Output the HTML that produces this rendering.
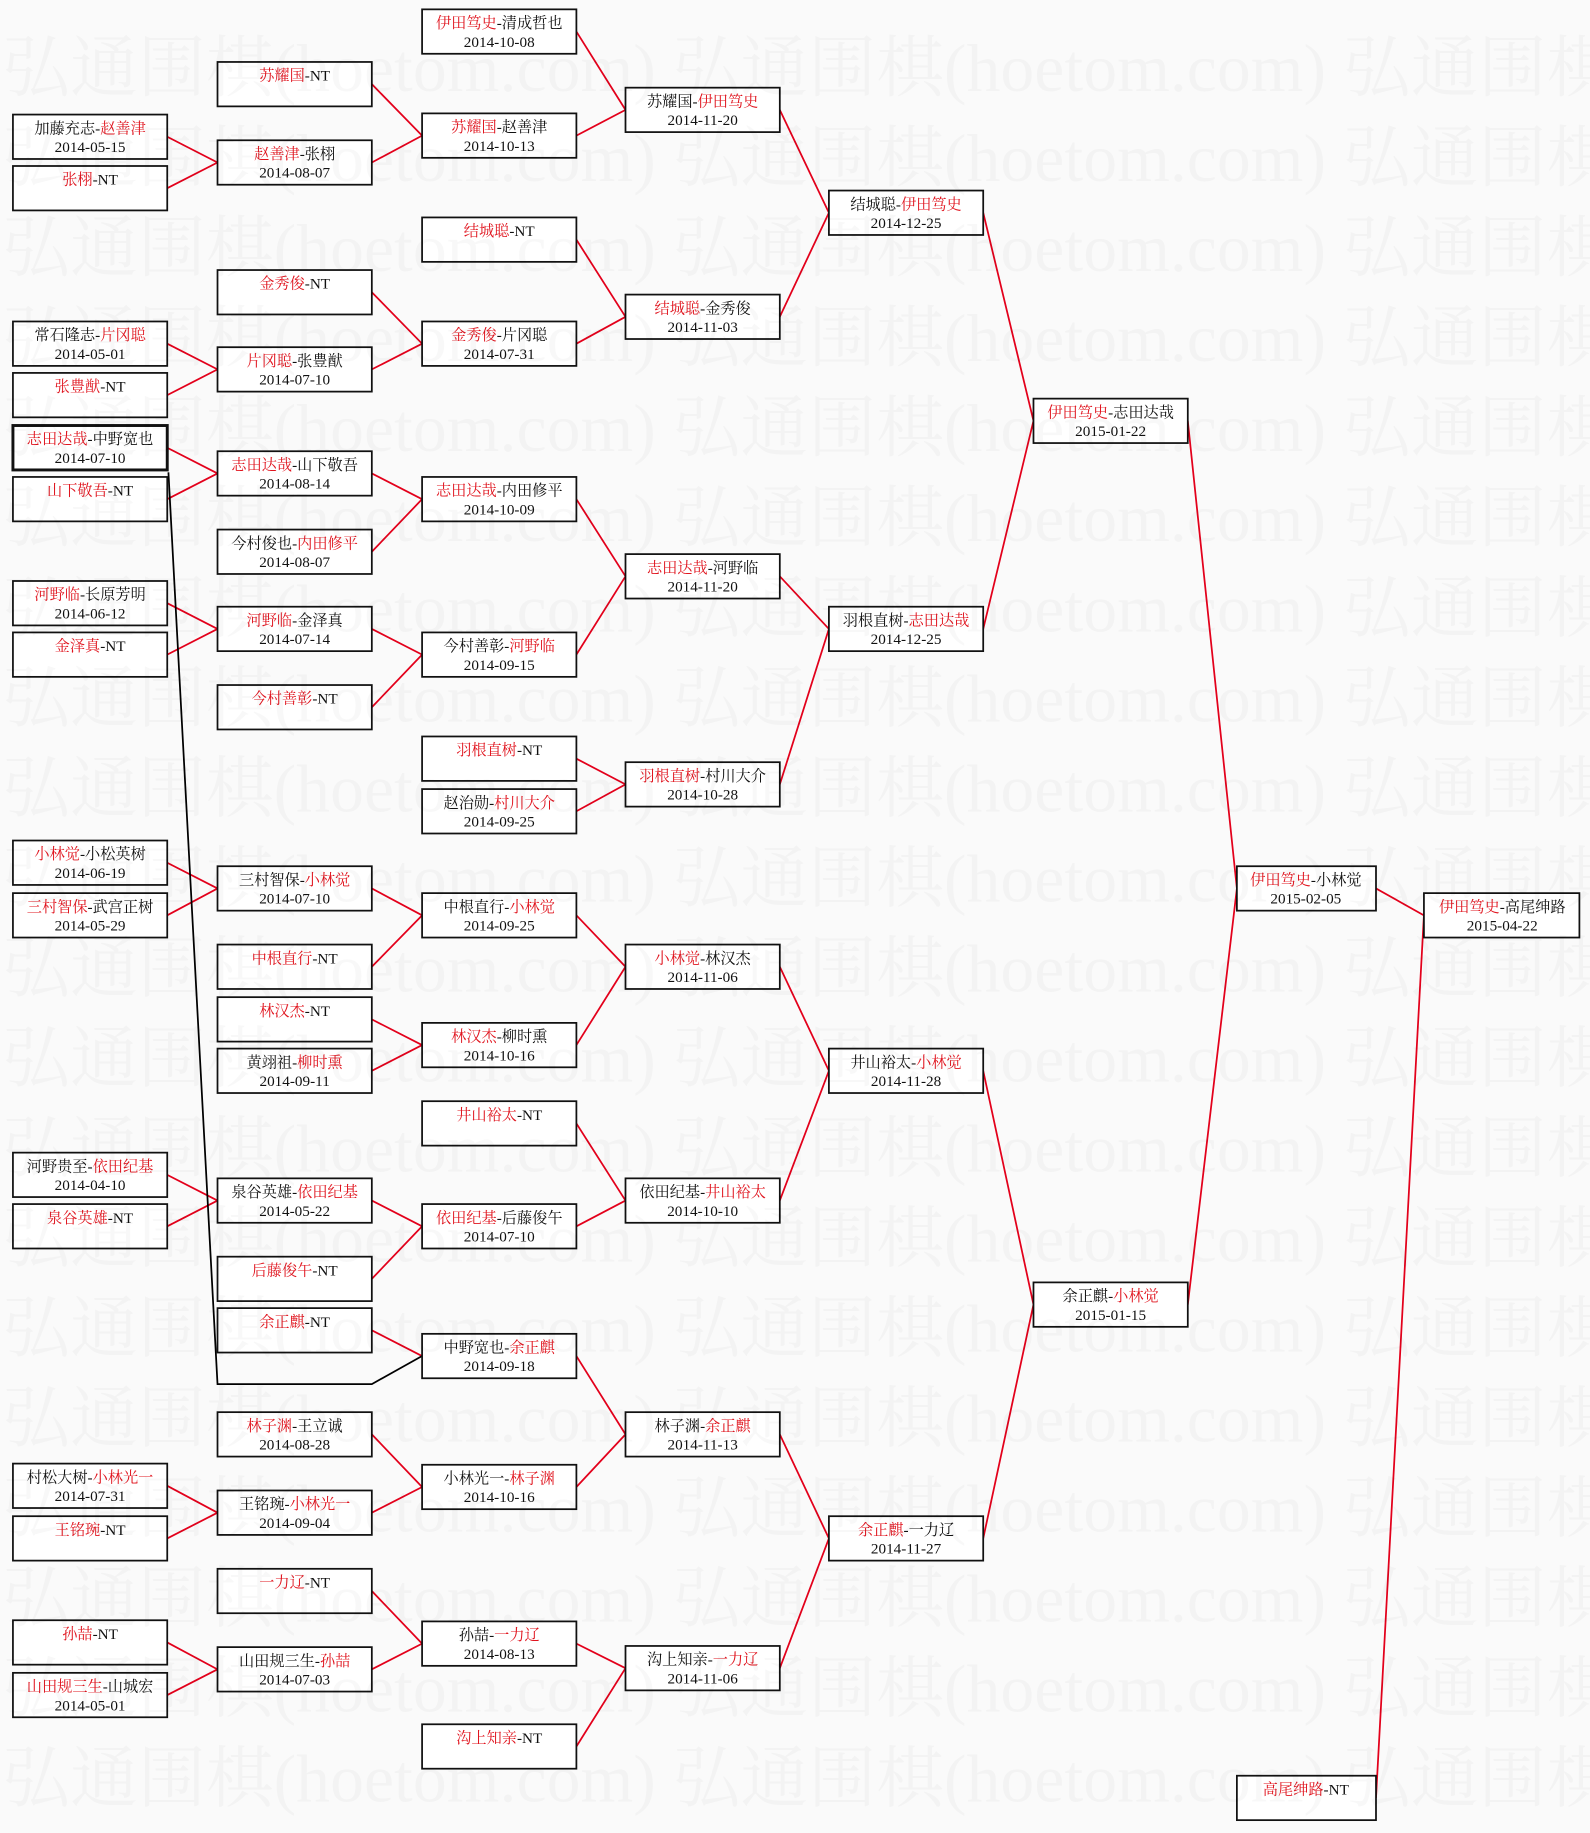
<!DOCTYPE html>
<html><head><meta charset="utf-8">
<style>
html,body{margin:0;padding:0;background:#fafafa;}
svg{display:block;}
text{font-family:"Liberation Serif","Noto Serif CJK SC","Noto Sans CJK SC",serif;font-size:13px;fill:#111;}
.r{fill:#e0141e;}
.wm{font-size:58px;fill:#000;fill-opacity:0.028;}
</style></head><body>
<svg width="1590" height="1833" viewBox="0 0 1360 1568" xmlns="http://www.w3.org/2000/svg">
<rect width="1360" height="1568" fill="#fafafa"/>
<g stroke="#e3001b" stroke-width="1.5" fill="none">
<path d="M143 117L186 139M143 161L186 139"/>
<path d="M143 294L186 316M143 338L186 316"/>
<path d="M143 383L186 405M143 427L186 405"/>
<path d="M143 516L186 538M143 560L186 538"/>
<path d="M143 738L186 760M143 783L186 760"/>
<path d="M143 1005L186 1027M143 1049L186 1027"/>
<path d="M143 1271L186 1294M143 1316L186 1294"/>
<path d="M143 1405L186 1428M143 1450L186 1428"/>
<path d="M318 72L361 116M318 139L361 116"/>
<path d="M318 250L361 294M318 316L361 294"/>
<path d="M318 405L361 427M318 472L361 427"/>
<path d="M318 538L361 560M318 605L361 560"/>
<path d="M318 760L361 783M318 827L361 783"/>
<path d="M318 872L361 894M318 916L361 894"/>
<path d="M318 1027L361 1049M318 1094L361 1049"/>
<path d="M318 1138L361 1160"/>
<path d="M318 1227L361 1272M318 1294L361 1272"/>
<path d="M318 1361L361 1406M318 1428L361 1406"/>
<path d="M493 27L535 94M493 116L535 94"/>
<path d="M493 205L535 271M493 294L535 271"/>
<path d="M493 427L535 493M493 560L535 493"/>
<path d="M493 649L535 671M493 694L535 671"/>
<path d="M493 783L535 827M493 894L535 827"/>
<path d="M493 961L535 1027M493 1049L535 1027"/>
<path d="M493 1160L535 1227M493 1272L535 1227"/>
<path d="M493 1406L535 1427M493 1494L535 1427"/>
<path d="M667 94L709 182M667 271L709 182"/>
<path d="M667 493L709 538M667 671L709 538"/>
<path d="M667 827L709 916M667 1027L709 916"/>
<path d="M667 1227L709 1316M667 1427L709 1316"/>
<path d="M841 182L884 360M841 538L884 360"/>
<path d="M841 916L884 1116M841 1316L884 1116"/>
<path d="M1016 360L1058 760M1016 1116L1058 760"/>
<path d="M1177 760L1218 783M1177 1538L1218 783"/>
</g>
<path d="M144 404L186 1184L318 1184L361 1160" stroke="#000" stroke-width="1.5" fill="none"/>

<g fill="#fff" stroke="#111" stroke-width="1.5">
<rect x="11" y="98" width="132" height="38"/><rect x="11" y="142" width="132" height="38"/>
<rect x="11" y="275" width="132" height="38"/><rect x="11" y="319" width="132" height="38"/>
<rect x="11" y="364" width="132" height="38" stroke-width="2.5"/><rect x="11" y="408" width="132" height="38"/>
<rect x="11" y="497" width="132" height="38"/><rect x="11" y="541" width="132" height="38"/>
<rect x="11" y="719" width="132" height="38"/><rect x="11" y="764" width="132" height="38"/>
<rect x="11" y="986" width="132" height="38"/><rect x="11" y="1030" width="132" height="38"/>
<rect x="11" y="1252" width="132" height="38"/><rect x="11" y="1297" width="132" height="38"/>
<rect x="11" y="1386" width="132" height="38"/><rect x="11" y="1431" width="132" height="38"/>
<rect x="186" y="53" width="132" height="38"/><rect x="186" y="120" width="132" height="38"/>
<rect x="186" y="231" width="132" height="38"/><rect x="186" y="297" width="132" height="38"/>
<rect x="186" y="386" width="132" height="38"/><rect x="186" y="453" width="132" height="38"/>
<rect x="186" y="519" width="132" height="38"/><rect x="186" y="586" width="132" height="38"/>
<rect x="186" y="741" width="132" height="38"/><rect x="186" y="808" width="132" height="38"/>
<rect x="186" y="853" width="132" height="38"/><rect x="186" y="897" width="132" height="38"/>
<rect x="186" y="1008" width="132" height="38"/><rect x="186" y="1075" width="132" height="38"/>
<rect x="186" y="1119" width="132" height="38"/>
<rect x="186" y="1208" width="132" height="38"/><rect x="186" y="1275" width="132" height="38"/>
<rect x="186" y="1342" width="132" height="38"/><rect x="186" y="1409" width="132" height="38"/>
<rect x="361" y="8" width="132" height="38"/><rect x="361" y="97" width="132" height="38"/>
<rect x="361" y="186" width="132" height="38"/><rect x="361" y="275" width="132" height="38"/>
<rect x="361" y="408" width="132" height="38"/><rect x="361" y="541" width="132" height="38"/>
<rect x="361" y="630" width="132" height="38"/><rect x="361" y="675" width="132" height="38"/>
<rect x="361" y="764" width="132" height="38"/><rect x="361" y="875" width="132" height="38"/>
<rect x="361" y="942" width="132" height="38"/><rect x="361" y="1030" width="132" height="38"/>
<rect x="361" y="1141" width="132" height="38"/><rect x="361" y="1253" width="132" height="38"/>
<rect x="361" y="1387" width="132" height="38"/><rect x="361" y="1475" width="132" height="38"/>
<rect x="535" y="75" width="132" height="38"/><rect x="535" y="252" width="132" height="38"/>
<rect x="535" y="474" width="132" height="38"/><rect x="535" y="652" width="132" height="38"/>
<rect x="535" y="808" width="132" height="38"/><rect x="535" y="1008" width="132" height="38"/>
<rect x="535" y="1208" width="132" height="38"/><rect x="535" y="1408" width="132" height="38"/>
<rect x="709" y="163" width="132" height="38"/><rect x="709" y="519" width="132" height="38"/>
<rect x="709" y="897" width="132" height="38"/><rect x="709" y="1297" width="132" height="38"/>
<rect x="884" y="341" width="132" height="38"/><rect x="884" y="1097" width="132" height="38"/>
<rect x="1058" y="741" width="119" height="38"/><rect x="1058" y="1519" width="119" height="38"/>
<rect x="1218" y="764" width="133" height="38"/>
</g>

<g text-anchor="middle">
<text x="77" y="114">加藤充志-<tspan class="r">赵善津</tspan></text><text x="77" y="130">2014-05-15</text>
<text x="77" y="158"><tspan class="r">张栩</tspan>-NT</text>
<text x="77" y="291">常石隆志-<tspan class="r">片冈聪</tspan></text><text x="77" y="307">2014-05-01</text>
<text x="77" y="335"><tspan class="r">张豊猷</tspan>-NT</text>
<text x="77" y="380"><tspan class="r">志田达哉</tspan>-中野宽也</text><text x="77" y="396">2014-07-10</text>
<text x="77" y="424"><tspan class="r">山下敬吾</tspan>-NT</text>
<text x="77" y="513"><tspan class="r">河野临</tspan>-长原芳明</text><text x="77" y="529">2014-06-12</text>
<text x="77" y="557"><tspan class="r">金泽真</tspan>-NT</text>
<text x="77" y="735"><tspan class="r">小林觉</tspan>-小松英树</text><text x="77" y="751">2014-06-19</text>
<text x="77" y="780"><tspan class="r">三村智保</tspan>-武宫正树</text><text x="77" y="796">2014-05-29</text>
<text x="77" y="1002">河野贵至-<tspan class="r">依田纪基</tspan></text><text x="77" y="1018">2014-04-10</text>
<text x="77" y="1046"><tspan class="r">泉谷英雄</tspan>-NT</text>
<text x="77" y="1268">村松大树-<tspan class="r">小林光一</tspan></text><text x="77" y="1284">2014-07-31</text>
<text x="77" y="1313"><tspan class="r">王铭琬</tspan>-NT</text>
<text x="77" y="1402"><tspan class="r">孙喆</tspan>-NT</text>
<text x="77" y="1447"><tspan class="r">山田规三生</tspan>-山城宏</text><text x="77" y="1463">2014-05-01</text>
<text x="252" y="69"><tspan class="r">苏耀国</tspan>-NT</text>
<text x="252" y="136"><tspan class="r">赵善津</tspan>-张栩</text><text x="252" y="152">2014-08-07</text>
<text x="252" y="247"><tspan class="r">金秀俊</tspan>-NT</text>
<text x="252" y="313"><tspan class="r">片冈聪</tspan>-张豊猷</text><text x="252" y="329">2014-07-10</text>
<text x="252" y="402"><tspan class="r">志田达哉</tspan>-山下敬吾</text><text x="252" y="418">2014-08-14</text>
<text x="252" y="469">今村俊也-<tspan class="r">内田修平</tspan></text><text x="252" y="485">2014-08-07</text>
<text x="252" y="535"><tspan class="r">河野临</tspan>-金泽真</text><text x="252" y="551">2014-07-14</text>
<text x="252" y="602"><tspan class="r">今村善彰</tspan>-NT</text>
<text x="252" y="757">三村智保-<tspan class="r">小林觉</tspan></text><text x="252" y="773">2014-07-10</text>
<text x="252" y="824"><tspan class="r">中根直行</tspan>-NT</text>
<text x="252" y="869"><tspan class="r">林汉杰</tspan>-NT</text>
<text x="252" y="913">黄翊祖-<tspan class="r">柳时熏</tspan></text><text x="252" y="929">2014-09-11</text>
<text x="252" y="1024">泉谷英雄-<tspan class="r">依田纪基</tspan></text><text x="252" y="1040">2014-05-22</text>
<text x="252" y="1091"><tspan class="r">后藤俊午</tspan>-NT</text>
<text x="252" y="1135"><tspan class="r">余正麒</tspan>-NT</text>
<text x="252" y="1224"><tspan class="r">林子渊</tspan>-王立诚</text><text x="252" y="1240">2014-08-28</text>
<text x="252" y="1291">王铭琬-<tspan class="r">小林光一</tspan></text><text x="252" y="1307">2014-09-04</text>
<text x="252" y="1358"><tspan class="r">一力辽</tspan>-NT</text>
<text x="252" y="1425">山田规三生-<tspan class="r">孙喆</tspan></text><text x="252" y="1441">2014-07-03</text>
<text x="427" y="24"><tspan class="r">伊田笃史</tspan>-清成哲也</text><text x="427" y="40">2014-10-08</text>
<text x="427" y="113"><tspan class="r">苏耀国</tspan>-赵善津</text><text x="427" y="129">2014-10-13</text>
<text x="427" y="202"><tspan class="r">结城聪</tspan>-NT</text>
<text x="427" y="291"><tspan class="r">金秀俊</tspan>-片冈聪</text><text x="427" y="307">2014-07-31</text>
<text x="427" y="424"><tspan class="r">志田达哉</tspan>-内田修平</text><text x="427" y="440">2014-10-09</text>
<text x="427" y="557">今村善彰-<tspan class="r">河野临</tspan></text><text x="427" y="573">2014-09-15</text>
<text x="427" y="646"><tspan class="r">羽根直树</tspan>-NT</text>
<text x="427" y="691">赵治勋-<tspan class="r">村川大介</tspan></text><text x="427" y="707">2014-09-25</text>
<text x="427" y="780">中根直行-<tspan class="r">小林觉</tspan></text><text x="427" y="796">2014-09-25</text>
<text x="427" y="891"><tspan class="r">林汉杰</tspan>-柳时熏</text><text x="427" y="907">2014-10-16</text>
<text x="427" y="958"><tspan class="r">井山裕太</tspan>-NT</text>
<text x="427" y="1046"><tspan class="r">依田纪基</tspan>-后藤俊午</text><text x="427" y="1062">2014-07-10</text>
<text x="427" y="1157">中野宽也-<tspan class="r">余正麒</tspan></text><text x="427" y="1173">2014-09-18</text>
<text x="427" y="1269">小林光一-<tspan class="r">林子渊</tspan></text><text x="427" y="1285">2014-10-16</text>
<text x="427" y="1403">孙喆-<tspan class="r">一力辽</tspan></text><text x="427" y="1419">2014-08-13</text>
<text x="427" y="1491"><tspan class="r">沟上知亲</tspan>-NT</text>
<text x="601" y="91">苏耀国-<tspan class="r">伊田笃史</tspan></text><text x="601" y="107">2014-11-20</text>
<text x="601" y="268"><tspan class="r">结城聪</tspan>-金秀俊</text><text x="601" y="284">2014-11-03</text>
<text x="601" y="490"><tspan class="r">志田达哉</tspan>-河野临</text><text x="601" y="506">2014-11-20</text>
<text x="601" y="668"><tspan class="r">羽根直树</tspan>-村川大介</text><text x="601" y="684">2014-10-28</text>
<text x="601" y="824"><tspan class="r">小林觉</tspan>-林汉杰</text><text x="601" y="840">2014-11-06</text>
<text x="601" y="1024">依田纪基-<tspan class="r">井山裕太</tspan></text><text x="601" y="1040">2014-10-10</text>
<text x="601" y="1224">林子渊-<tspan class="r">余正麒</tspan></text><text x="601" y="1240">2014-11-13</text>
<text x="601" y="1424">沟上知亲-<tspan class="r">一力辽</tspan></text><text x="601" y="1440">2014-11-06</text>
<text x="775" y="179">结城聪-<tspan class="r">伊田笃史</tspan></text><text x="775" y="195">2014-12-25</text>
<text x="775" y="535">羽根直树-<tspan class="r">志田达哉</tspan></text><text x="775" y="551">2014-12-25</text>
<text x="775" y="913">井山裕太-<tspan class="r">小林觉</tspan></text><text x="775" y="929">2014-11-28</text>
<text x="775" y="1313"><tspan class="r">余正麒</tspan>-一力辽</text><text x="775" y="1329">2014-11-27</text>
<text x="950" y="357"><tspan class="r">伊田笃史</tspan>-志田达哉</text><text x="950" y="373">2015-01-22</text>
<text x="950" y="1113">余正麒-<tspan class="r">小林觉</tspan></text><text x="950" y="1129">2015-01-15</text>
<text x="1117" y="757"><tspan class="r">伊田笃史</tspan>-小林觉</text><text x="1117" y="773">2015-02-05</text>
<text x="1117" y="1535"><tspan class="r">高尾绅路</tspan>-NT</text>
<text x="1285" y="780"><tspan class="r">伊田笃史</tspan>-高尾绅路</text><text x="1285" y="796">2015-04-22</text>
</g>

<g>
<text class="wm" x="2" y="78">弘通围棋(hoetom.com) 弘通围棋(hoetom.com) 弘通围棋</text>
<text class="wm" x="2" y="155">弘通围棋(hoetom.com) 弘通围棋(hoetom.com) 弘通围棋</text>
<text class="wm" x="2" y="232">弘通围棋(hoetom.com) 弘通围棋(hoetom.com) 弘通围棋</text>
<text class="wm" x="2" y="309">弘通围棋(hoetom.com) 弘通围棋(hoetom.com) 弘通围棋</text>
<text class="wm" x="2" y="386">弘通围棋(hoetom.com) 弘通围棋(hoetom.com) 弘通围棋</text>
<text class="wm" x="2" y="463">弘通围棋(hoetom.com) 弘通围棋(hoetom.com) 弘通围棋</text>
<text class="wm" x="2" y="540">弘通围棋(hoetom.com) 弘通围棋(hoetom.com) 弘通围棋</text>
<text class="wm" x="2" y="617">弘通围棋(hoetom.com) 弘通围棋(hoetom.com) 弘通围棋</text>
<text class="wm" x="2" y="694">弘通围棋(hoetom.com) 弘通围棋(hoetom.com) 弘通围棋</text>
<text class="wm" x="2" y="771">弘通围棋(hoetom.com) 弘通围棋(hoetom.com) 弘通围棋</text>
<text class="wm" x="2" y="848">弘通围棋(hoetom.com) 弘通围棋(hoetom.com) 弘通围棋</text>
<text class="wm" x="2" y="925">弘通围棋(hoetom.com) 弘通围棋(hoetom.com) 弘通围棋</text>
<text class="wm" x="2" y="1002">弘通围棋(hoetom.com) 弘通围棋(hoetom.com) 弘通围棋</text>
<text class="wm" x="2" y="1079">弘通围棋(hoetom.com) 弘通围棋(hoetom.com) 弘通围棋</text>
<text class="wm" x="2" y="1156">弘通围棋(hoetom.com) 弘通围棋(hoetom.com) 弘通围棋</text>
<text class="wm" x="2" y="1233">弘通围棋(hoetom.com) 弘通围棋(hoetom.com) 弘通围棋</text>
<text class="wm" x="2" y="1310">弘通围棋(hoetom.com) 弘通围棋(hoetom.com) 弘通围棋</text>
<text class="wm" x="2" y="1387">弘通围棋(hoetom.com) 弘通围棋(hoetom.com) 弘通围棋</text>
<text class="wm" x="2" y="1464">弘通围棋(hoetom.com) 弘通围棋(hoetom.com) 弘通围棋</text>
<text class="wm" x="2" y="1541">弘通围棋(hoetom.com) 弘通围棋(hoetom.com) 弘通围棋</text>
</g>
</svg>
</body></html>
